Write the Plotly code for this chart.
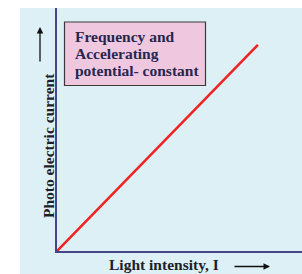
import plotly.graph_objects as go

# Data: a straight line through the origin
intensity = [0.0, 8.2]
current = [0.0, 8.48]

box_lines = ["Frequency and", "Accelerating", "potential- constant"]
x_label = "Light intensity, I"
y_label = "Photo electric current"

W, H = 302, 274
L, R, T, B = 57, 0, 8, 23
pw, ph = W - L - R, H - T - B

def px(x):
    return (x - L) / pw

def py(y):
    return (H - B - y) / ph

bg = "#ddf0f5"
axis_col = "#45468a"
serif = "Liberation Serif"

fig = go.Figure()
fig.add_trace(go.Scatter(x=intensity, y=current, mode="lines",
                         line=dict(color="#ee2424", width=2.6),
                         hoverinfo="skip", showlegend=False))

shapes = [
    dict(type="rect", xref="paper", yref="paper", x0=px(20), x1=px(302),
         y0=py(274), y1=py(8), fillcolor=bg, line=dict(width=0), layer="below"),
    dict(type="rect", xref="paper", yref="paper", x0=px(64.5), x1=px(205.5),
         y0=py(85.5), y1=py(22), fillcolor="#efc8df",
         line=dict(color="#3a3a3a", width=1.2), layer="above"),
]

annotations = []
for i, line in enumerate(box_lines):
    annotations.append(dict(
        xref="paper", yref="paper", x=px(73), y=py(36.5 + 17 * i),
        xanchor="left", yanchor="middle", text="<b>" + line + "</b>",
        showarrow=False, font=dict(family=serif, size=15.5, color="#26264f")))

annotations += [
    dict(xref="paper", yref="paper", x=px(38), y=py(145.5), textangle=-90,
         text="<b>" + y_label + "</b>", showarrow=False,
         font=dict(family=serif, size=15.5, color="#1e1e2a")),
    dict(xref="paper", yref="paper", x=px(164), y=py(253.5), yanchor="top",
         text="<b>" + x_label + "</b>", showarrow=False,
         font=dict(family=serif, size=15.5, color="#1e1e2a")),
    dict(xref="paper", yref="paper", x=px(40), y=py(27), ax=0, ay=36,
         axref="pixel", ayref="pixel", text="", showarrow=True,
         arrowhead=2, arrowsize=1, arrowwidth=1.3, arrowcolor="#111111"),
    dict(xref="paper", yref="paper", x=px(270), y=py(266.5), ax=-37, ay=0,
         axref="pixel", ayref="pixel", text="", showarrow=True,
         arrowhead=2, arrowsize=1, arrowwidth=1.3, arrowcolor="#111111"),
]

fig.update_layout(
    width=W, height=H,
    margin=dict(l=L, r=R, t=T, b=B),
    paper_bgcolor="white", plot_bgcolor=bg,
    shapes=shapes, annotations=annotations,
    xaxis=dict(range=[0, 10], showgrid=False, zeroline=False, showticklabels=False,
               ticks="", showline=True, linecolor=axis_col, linewidth=1.6, fixedrange=True),
    yaxis=dict(range=[0, 10], showgrid=False, zeroline=False, showticklabels=False,
               ticks="", showline=True, linecolor=axis_col, linewidth=1.6, fixedrange=True),
)

fig.write_html("out.html", config={"displayModeBar": False},
               post_script="document.body.style.margin='0';document.body.style.overflow='hidden';")
